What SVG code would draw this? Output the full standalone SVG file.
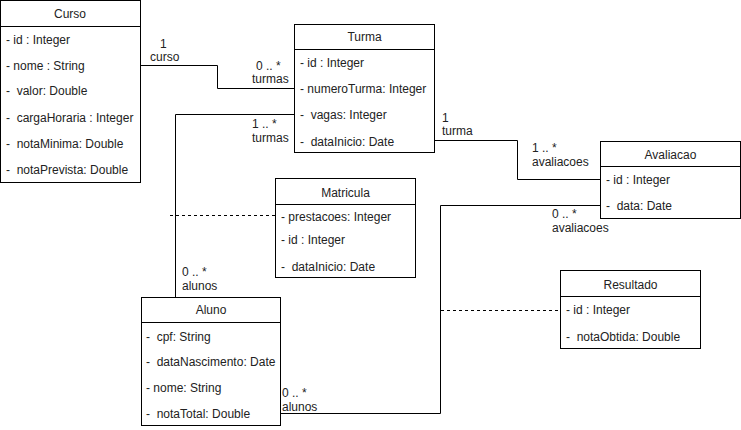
<svg xmlns="http://www.w3.org/2000/svg" width="741" height="430" viewBox="0 0 741 430">
<style>
.box{fill:#fff;stroke:#000;stroke-width:1}
.t{font-family:"Liberation Sans",Arial,sans-serif;font-size:12px;fill:#222;white-space:pre}
.c{text-anchor:middle}
.e{fill:none;stroke:#000;stroke-width:1}
.d{fill:none;stroke:#000;stroke-width:1;stroke-dasharray:3 3}
</style>
<rect width="741" height="430" fill="#fff"/>
<g id="connectors">
<polyline class="e" points="140,65.5 217.5,65.5 217.5,88.5 294,88.5"/>
<polyline class="e" points="294,114.5 175.5,114.5 175.5,297"/>
<polyline class="e" points="434,140.5 517.5,140.5 517.5,179.5 600,179.5"/>
<polyline class="e" points="600,205.5 440.5,205.5 440.5,413.5 280,413.5"/>
<line class="d" x1="170" y1="215.5" x2="275" y2="215.5"/>
<line class="d" x1="441" y1="310.5" x2="560" y2="310.5"/>
<text class="t" x="160" y="48">1</text>
<text class="t" x="150" y="61">curso</text>
<text class="t" x="256" y="70">0 .. *</text>
<text class="t" x="252" y="83">turmas</text>
<text class="t" x="252" y="128">1 .. *</text>
<text class="t" x="252" y="142">turmas</text>
<text class="t" x="442" y="122">1</text>
<text class="t" x="442" y="135">turma</text>
<text class="t" x="532" y="152">1 .. *</text>
<text class="t" x="532" y="166">avaliacoes</text>
<text class="t" x="552" y="218">0 .. *</text>
<text class="t" x="552" y="232">avaliacoes</text>
<text class="t" x="182" y="276">0 .. *</text>
<text class="t" x="182" y="290">alunos</text>
<text class="t" x="282" y="397">0 .. *</text>
<text class="t" x="282" y="411">alunos</text>
</g>
<g id="Curso">
<rect class="box" x="0.5" y="0.5" width="140" height="182"/>
<line class="e" x1="0.5" y1="26.5" x2="140.5" y2="26.5"/>
<text class="t c" x="70" y="18">Curso</text>
<text class="t" x="6" y="44">- id : Integer</text>
<text class="t" x="6" y="70">- nome : String</text>
<text class="t" x="6" y="95">-  valor: Double</text>
<text class="t" x="6" y="122">-  cargaHoraria : Integer</text>
<text class="t" x="6" y="148">-  notaMinima: Double</text>
<text class="t" x="6" y="174">-  notaPrevista: Double</text>
</g>
<g id="Turma">
<rect class="box" x="294.5" y="24.5" width="140" height="128"/>
<line class="e" x1="294.5" y1="49.5" x2="434.5" y2="49.5"/>
<text class="t c" x="364.5" y="41">Turma</text>
<text class="t" x="300" y="67">- id : Integer</text>
<text class="t" x="300" y="93">- numeroTurma: Integer</text>
<text class="t" x="300" y="119">-  vagas: Integer</text>
<text class="t" x="300" y="146">-  dataInicio: Date</text>
</g>
<g id="Avaliacao">
<rect class="box" x="600.5" y="141.5" width="140" height="77"/>
<line class="e" x1="600.5" y1="166.5" x2="740.5" y2="166.5"/>
<text class="t c" x="670.5" y="159">Avaliacao</text>
<text class="t" x="606" y="184">- id : Integer</text>
<text class="t" x="606" y="210">-  data: Date</text>
</g>
<g id="Matricula">
<rect class="box" x="275.5" y="178.5" width="140" height="99"/>
<line class="e" x1="275.5" y1="204.5" x2="415.5" y2="204.5"/>
<text class="t c" x="345.5" y="197">Matricula</text>
<text class="t" x="281" y="221">- prestacoes: Integer</text>
<text class="t" x="281" y="244">- id : Integer</text>
<text class="t" x="281" y="271">-  dataInicio: Date</text>
</g>
<g id="Aluno">
<rect class="box" x="141.5" y="297.5" width="139" height="128"/>
<line class="e" x1="141.5" y1="322.5" x2="280.5" y2="322.5"/>
<text class="t c" x="211" y="314">Aluno</text>
<text class="t" x="146" y="341">-  cpf: String</text>
<text class="t" x="146" y="366">-  dataNascimento: Date</text>
<text class="t" x="146" y="392">- nome: String</text>
<text class="t" x="146" y="418">-  notaTotal: Double</text>
</g>
<g id="Resultado">
<rect class="box" x="560.5" y="270.5" width="140" height="78"/>
<line class="e" x1="560.5" y1="296.5" x2="700.5" y2="296.5"/>
<text class="t c" x="630.5" y="289">Resultado</text>
<text class="t" x="566" y="314">- id : Integer</text>
<text class="t" x="566" y="341">-  notaObtida: Double</text>
</g>
</svg>
